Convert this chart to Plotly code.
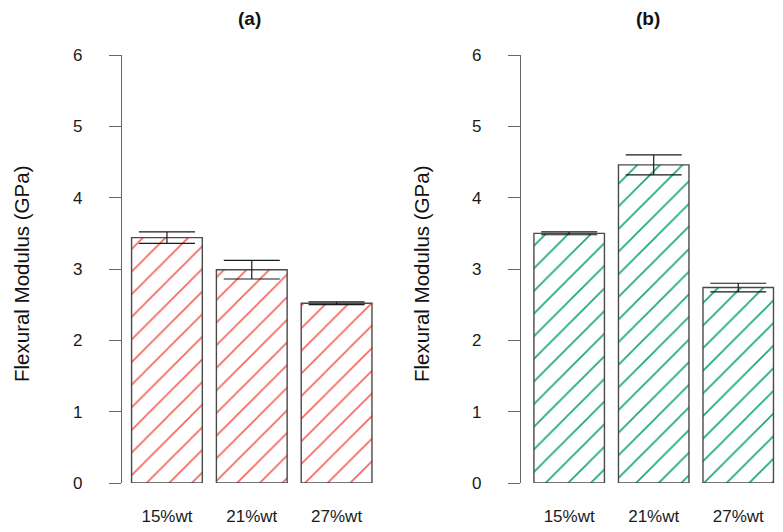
import plotly.graph_objects as go

categories = ["15%wt", "21%wt", "27%wt"]
values_a = [3.44, 2.99, 2.52]
errors_a = [0.08, 0.13, 0.02]
values_b = [3.50, 4.46, 2.74]
errors_b = [0.02, 0.14, 0.06]
y_ticks = [0, 1, 2, 3, 4, 5, 6]
panel_titles = ["(a)", "(b)"]
y_title = "Flexural Modulus (GPa)"

W, H = 783, 532
FONT = "Liberation Sans, Arial, sans-serif"

fig = go.Figure()

def add_bars(vals, errs, color, xa, ya):
    fig.add_trace(go.Bar(
        x=categories, y=vals, xaxis=xa, yaxis=ya,
        marker=dict(color="white",
                    line=dict(color="#4a4a4a", width=1.4),
                    pattern=dict(shape="/", fgcolor=color, bgcolor="white",
                                 size=16, solidity=0.1, fillmode="replace")),
        error_y=dict(type="data", array=errs, visible=True, color="#1a1a1a",
                     thickness=1.2, width=28),
        showlegend=False,
    ))

add_bars(values_a, errors_a, "#F4645C", "x", "y")
add_bars(values_b, errors_b, "#16A67C", "x2", "y2")

ydom = [(H - 483) / H, (H - 55) / H]
xdom_a = [122 / W, 379 / W]
xdom_b = [521 / W, 780.5 / W]

axis_common_y = dict(range=[0, 6], tickvals=y_ticks, showgrid=False, zeroline=False,
                     showline=True, linecolor="#666666", linewidth=1.3,
                     ticks="outside", ticklen=12, tickcolor="#666666", tickwidth=1.3,
                     tickfont=dict(family=FONT, size=17, color="#1a1a1a"),
                     ticklabelstandoff=23, domain=ydom, automargin=False, fixedrange=True)

fig.update_layout(
    width=W, height=H,
    margin=dict(l=0, r=0, t=0, b=0),
    paper_bgcolor="white", plot_bgcolor="white",
    bargap=0.166,
    xaxis=dict(domain=xdom_a, anchor="y", range=[-0.53, 2.5], showgrid=False,
               zeroline=False, showline=False, ticks="",
               tickfont=dict(family=FONT, size=17, color="#1a1a1a"),
               ticklabelstandoff=21, automargin=False, fixedrange=True),
    yaxis=dict(anchor="x", **axis_common_y),
    xaxis2=dict(domain=xdom_b, anchor="y2", range=[-0.57, 2.5], showgrid=False,
                zeroline=False, showline=False, ticks="",
                tickfont=dict(family=FONT, size=17, color="#1a1a1a"),
                ticklabelstandoff=21, automargin=False, fixedrange=True),
    yaxis2=dict(anchor="x2", **axis_common_y),
)

for i, xc in enumerate([249, 648]):
    fig.add_annotation(text="<b>%s</b>" % panel_titles[i], xref="paper", yref="paper",
                       x=xc / W, y=1 - 18 / H, xanchor="center", yanchor="middle",
                       showarrow=False, font=dict(family=FONT, size=19, color="#111111"))
for xc in [21, 421]:
    fig.add_annotation(text=y_title, xref="paper", yref="paper",
                       x=xc / W, y=1 - 274 / H, xanchor="center", yanchor="middle",
                       showarrow=False, textangle=-90,
                       font=dict(family=FONT, size=20.5, color="#111111"))

fig.write_html("out.html", config={"displayModeBar": False},
               post_script="document.body.style.margin='0px';")
